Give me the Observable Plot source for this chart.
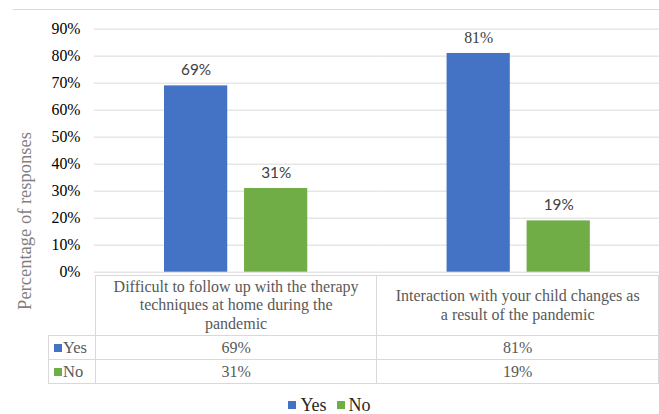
<!DOCTYPE html>
<html>
<head>
<meta charset="utf-8">
<script src="https://cdn.jsdelivr.net/npm/d3@7"></script>
<script src="https://cdn.jsdelivr.net/npm/@observablehq/plot@0.6"></script>
<style>
  html, body { margin: 0; padding: 0; background: #fff; overflow: hidden; font-family: 'Liberation Serif'; }
  #wrap { position: relative; width: 659px; height: 414px; overflow: hidden; font-family: 'Liberation Serif'; }
  #plot { position: absolute; left: 0; top: 0; }
  #topline { position: absolute; left: 13px; top: 9px; width: 660px; height: 0; border-top: 1px solid #d9d9d9; }
  #ylabel { position: absolute; left: 25px; top: 221px; transform: translate(-50%, -50%) rotate(-90deg); white-space: nowrap; font-size: 18.5px; color: #7f7f7f; }
  table.dt { position: absolute; left: 48px; top: 275px; border-collapse: collapse; table-layout: fixed; color: #595959; font-size: 16px; font-family: 'Liberation Serif'; }
  table.dt td { border: 1px solid #d9d9d9; padding: 0; text-align: center; font-family: 'Liberation Serif'; }
  table.dt tr.hdr td { height: 59px; line-height: 18.5px; vertical-align: middle; }
  table.dt tr.hdr td.blank { border-left: none; border-top: none; }
  table.dt tr.val td { height: 23px; line-height: 23px; }
  table.dt td.key { text-align: left; padding-left: 5px; white-space: nowrap; font-size: 16.5px; }
  .sw { display: inline-block; width: 8px; height: 8px; margin-right: 1px; vertical-align: 1px; }
  #legend { position: absolute; left: 0; width: 659px; top: 395px; text-align: center; font-size: 18px; color: #262626; }
  #legend span.item { margin: 0 5px; }
  #legend .sw { width: 8px; height: 8px; margin-right: 4px; vertical-align: 2px; }
</style>
</head>
<body>
<div id="wrap">
  <div id="plot"></div>
  <div id="topline"></div>
  <div id="ylabel"></div>
  <div id="table"></div>
  <div id="legend"></div>
</div>
<script>
// ---- data ----
const categories = [
  "Difficult to follow up with the therapy techniques at home during the pandemic",
  "Interaction with your child changes as a result of the pandemic"
];
const categoryLines = [
  ["Difficult to follow up with the therapy", "techniques at home during the", "pandemic"],
  ["Interaction with your child changes as", "a result of the pandemic"]
];
const series = ["Yes", "No"];
const yesValues = [69, 81];
const noValues = [31, 19];
const yTicks = [0, 10, 20, 30, 40, 50, 60, 70, 80, 90];
const yLabel = "Percentage of responses";
const seriesColors = ["#4472C4", "#70AD47"];

const valuesBySeries = { Yes: yesValues, No: noValues };
const data = categories.flatMap((c, i) => series.map(s => ({ cat: c, resp: s, v: valuesBySeries[s][i] })));
const serifLabel = d => d.resp === "Yes" && d.v === 81;

const chart = Plot.plot({
  width: 667,
  height: 414,
  marginTop: 29,
  marginBottom: 139,
  marginLeft: 95,
  marginRight: 0,
  style: { fontFamily: "Liberation Serif", fontSize: "16px", color: "#000", background: "transparent" },
  fx: { domain: categories, padding: 0, axis: null },
  x: { domain: series, paddingInner: 0.21, paddingOuter: 0.864, axis: null },
  y: { domain: [0, 90], axis: null },
  color: { domain: series, range: seriesColors },
  marks: [
    Plot.ruleY(yTicks, { stroke: "#d9d9d9", strokeOpacity: 1, strokeWidth: 1 }),
    Plot.axisY({ ticks: yTicks, tickFormat: d => d + "%", tickSize: 0, tickPadding: 14, label: null,
      fontFamily: "Liberation Serif", fontSize: 16, fill: "#000" }),
    Plot.barY(data, { fx: "cat", x: "resp", y: "v", fill: "resp" }),
    Plot.text(data.filter(d => !serifLabel(d)), {
      fx: "cat", x: "resp", y: "v", text: d => d.v + "%", dy: -15.5,
      fill: "#404040", fontSize: 15.5, fontFamily: "Lato"
    }),
    Plot.text(data.filter(serifLabel), {
      fx: "cat", x: "resp", y: "v", text: d => d.v + "%", dy: -15.5,
      fill: "#404040", fontFamily: "Liberation Serif", fontSize: 16
    })
  ]
});
document.getElementById("plot").appendChild(chart);
document.getElementById("ylabel").textContent = yLabel;

// ---- data table ----
const colW = [47, 286, 286];
let html = '<table class="dt"><colgroup>' + colW.map(w => `<col style="width:${w}px">`).join("") + '</colgroup>';
html += '<tr class="hdr"><td class="blank"></td>' + categoryLines.map(ls => `<td>${ls.join("<br>")}</td>`).join("") + '</tr>';
series.forEach((s, si) => {
  html += `<tr class="val"><td class="key"><span class="sw" style="background:${seriesColors[si]}"></span>${s}</td>` +
    valuesBySeries[s].map(v => `<td>${v}%</td>`).join("") + '</tr>';
});
html += '</table>';
document.getElementById("table").innerHTML = html;

// ---- legend ----
document.getElementById("legend").innerHTML = series.map((s, si) =>
  `<span class="item"><span class="sw" style="background:${seriesColors[si]}"></span>${s}</span>`).join("");
</script>
</body>
</html>
